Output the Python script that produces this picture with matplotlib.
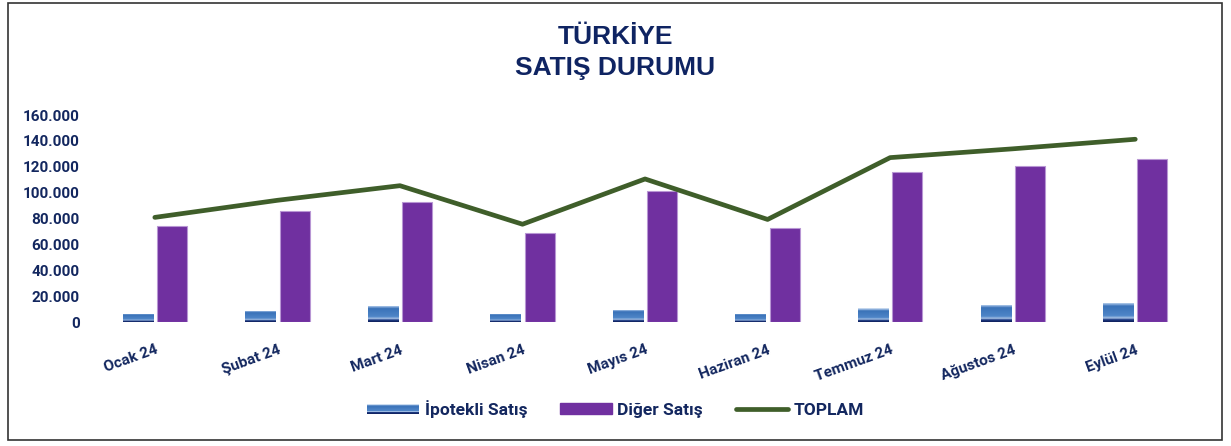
import numpy as np
import matplotlib.pyplot as plt
from matplotlib.patches import Rectangle
from matplotlib.lines import Line2D
from matplotlib.legend_handler import HandlerBase
from matplotlib.colors import LinearSegmentedColormap
from matplotlib.ticker import FuncFormatter

MONTHS = ['Ocak 24', 'Şubat 24', 'Mart 24', 'Nisan 24', 'Mayıs 24',
          'Haziran 24', 'Temmuz 24', 'Ağustos 24', 'Eylül 24']
IPOTEKLI = [6400, 8600, 12400, 6500, 9300, 6300, 10800, 13300, 15000]
DIGER = [74500, 85500, 93000, 69100, 101300, 73000, 116300, 120600, 126300]
TOPLAM = [80900, 94100, 105400, 75600, 110600, 79300, 127100, 133900, 141300]

NAVY = '#13275f'
PURPLE = '#7030a0'
GREEN = '#3f5e2a'

plt.rcParams['font.family'] = ['Roboto', 'DejaVu Sans']

# bottom dark navy -> light blue band -> blue body -> pale top
grad = LinearSegmentedColormap.from_list('ipo', [
    (0.0, '#0e1d58'), (0.12, '#1d3c85'), (0.2, '#a9c3e6'),
    (0.32, '#4f86c8'), (0.8, '#3a72b8'), (0.9, '#8db0dd'), (1.0, '#e2ecf7')])


class GradientHandler(HandlerBase):
    def create_artists(self, legend, orig_handle, xdescent, ydescent,
                       width, height, fontsize, trans):
        n = 16
        h = height * 0.85
        y0 = -ydescent + (height - h) / 2
        arts = []
        for i in range(n):
            arts.append(Rectangle((-xdescent, y0 + i * h / n), width, h / n + 0.1,
                                  facecolor=grad((i + 0.5) / n),
                                  edgecolor='none', transform=trans))
        return arts


fig = plt.figure(figsize=(12.31, 4.46), dpi=100)
ax = fig.add_axes([0.076, 0.278, 0.896, 0.464])

x = np.arange(len(MONTHS))
w = 0.245
off = 0.14

ipo_bars = ax.bar(x - off, IPOTEKLI, width=w, color='none', edgecolor='none')
ax.bar(x + off, DIGER, width=w, color=PURPLE, edgecolor='#b896d4',
       linewidth=0.8, zorder=2)

gimg = np.linspace(0, 1, 256).reshape(-1, 1)
for b in ipo_bars:
    x0, y0 = b.get_x(), b.get_y()
    im = ax.imshow(gimg, cmap=grad, origin='lower', aspect='auto',
                   extent=(x0, x0 + b.get_width(), y0, y0 + b.get_height()),
                   zorder=2)
    im.set_clip_path(b)

ax.plot(x, TOPLAM, color=GREEN, linewidth=3.4, solid_capstyle='round',
        solid_joinstyle='round', zorder=3)

ax.set_xlim(-0.5, len(MONTHS) - 0.5)
ax.set_ylim(0, 160000)
ax.set_yticks(np.arange(0, 160001, 20000))
ax.yaxis.set_major_formatter(
    FuncFormatter(lambda v, p: f'{int(v):,}'.replace(',', '.')))
ax.set_xticks(x)
ax.set_xticklabels(MONTHS, rotation=20, ha='right', rotation_mode='anchor')
for s in ax.spines.values():
    s.set_visible(False)
ax.tick_params(length=0, colors=NAVY, labelsize=11)
ax.tick_params(axis='y', pad=10)
ax.tick_params(axis='x', pad=15)
for lab in ax.get_xticklabels() + ax.get_yticklabels():
    lab.set_fontweight('bold')
    lab.set_color(NAVY)

fig.text(0.5, 0.882, 'TÜRKİYE\nSATIŞ DURUMU', ha='center', va='center',
         fontsize=19, fontweight='bold', color='#0f2462', family='Liberation Sans',
         linespacing=1.4)

handles = [Rectangle((0, 0), 1, 1), Rectangle((0, 0), 1, 1, color=PURPLE),
           Line2D([0], [0], color=GREEN, linewidth=3.4, solid_capstyle='round')]
leg = fig.legend(handles, ['İpotekli Satış', 'Diğer Satış', 'TOPLAM'],
                 loc='center', bbox_to_anchor=(0.5, 0.083), ncol=3,
                 frameon=False, handlelength=3.0, handleheight=0.6,
                 handletextpad=0.3, columnspacing=1.9,
                 handler_map={handles[0]: GradientHandler()},
                 prop={'weight': 'bold', 'size': 12.5})
for t in leg.get_texts():
    t.set_color(NAVY)

fig.patches.append(Rectangle((0.0065, 0.013), 0.986, 0.98, transform=fig.transFigure,
                             fill=False, edgecolor='#333333', linewidth=1.2))

fig.savefig('out.png', dpi=100)
